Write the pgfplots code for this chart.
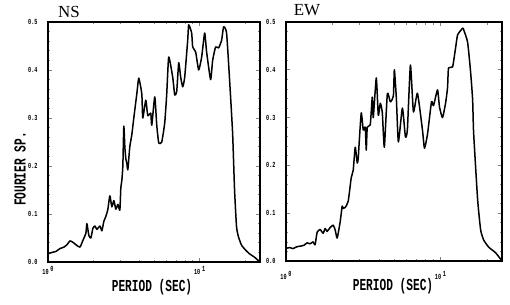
\documentclass[border=0pt]{standalone}
\usepackage{pgfplots}
\pgfplotsset{compat=1.18}
\usepackage{fontspec}
\setmainfont{Liberation Serif}
\setmonofont{Liberation Mono}
\usepackage{graphicx}
\newcommand\tl[1]{\scalebox{1}[1.5]{\ttfamily\bfseries\fontsize{5.2}{5}\selectfont #1}}
\newcommand\xl[1]{\tl{10}\raisebox{2.5bp}{\kern1.8bp\tl{#1}}}
\newcommand\lab[1]{\scalebox{1}[1.5]{\ttfamily\bfseries\fontsize{11.2}{12}\selectfont #1}}
\begin{document}
\begin{tikzpicture}
\useasboundingbox (0,0) rectangle (510bp,305bp);
\begin{axis}[xmode=log, scale only axis,
    xmin=1, xmax=25, ymin=0, ymax=0.5,
    xtick={1,10}, xticklabels={\xl{0},\xl{1}},
    minor xtick={2,3,4,5,6,7,8,9,20},
    ytick={0,0.1,0.2,0.3,0.4,0.5},
    yticklabels={\tl{0.0},\tl{0.1},\tl{0.2},\tl{0.3},\tl{0.4},\tl{0.5}},
    minor y tick num=4,
    axis line style={line width=1.2bp},
    major tick style={line width=0.9bp},
    minor tick style={line width=0.7bp},
    major tick length=4bp, minor tick length=2.5bp,
    yticklabel style={xshift=-7bp},
    at={(48bp,43bp)}, anchor=south west, width=212bp, height=240bp,
  xticklabel style={yshift=-1bp}]
\addplot[black, line width=1.5bp, line join=round, smooth, tension=0.3] coordinates {
(1.000,0.017)(1.0625,0.020)(1.129,0.022)(1.199,0.028)(1.274,0.031)(1.334,0.036)
(1.396,0.044)(1.460,0.041)(1.528,0.036)(1.624,0.031)(1.699,0.045)(1.778,0.060)
(1.805,0.080)(1.861,0.055)(1.918,0.050)(1.977,0.070)(2.038,0.075)(2.101,0.068)
(2.199,0.075)(2.266,0.065)(2.336,0.085)(2.408,0.095)(2.482,0.110)(2.558,0.138)
(2.637,0.115)(2.718,0.128)(2.802,0.110)(2.888,0.120)(2.977,0.108)(3.022,0.155)
(3.069,0.170)(3.115,0.200)(3.162,0.283)(3.211,0.240)(3.260,0.215)(3.309,0.206)
(3.360,0.192)(3.463,0.240)(3.570,0.265)(3.680,0.300)(3.851,0.350)(3.969,0.383)
(4.155,0.350)(4.217,0.300)(4.413,0.337)(4.549,0.305)(4.760,0.310)(4.833,0.285)
(5.058,0.344)(5.213,0.285)(5.374,0.248)(5.623,0.250)(5.884,0.290)(6.066,0.350)
(6.253,0.427)(6.643,0.385)(6.848,0.348)(7.059,0.355)(7.277,0.415)(7.499,0.385)
(7.732,0.365)(7.970,0.385)(8.340,0.462)(8.467,0.494)(8.859,0.477)(8.995,0.448)
(9.412,0.4375)(9.850,0.400)(10.31,0.427)(10.79,0.477)(11.12,0.437)(11.81,0.380)
(12.18,0.420)(12.74,0.448)(13.34,0.446)(13.96,0.462)(14.39,0.490)(15.05,0.477)
(15.75,0.380)(16.49,0.269)(16.99,0.150)(17.51,0.073)(18.05,0.052)(18.89,0.035)
(20.07,0.025)(21.33,0.017)(23.01,0.010)(25.0,0.000)
};
\end{axis}
\begin{axis}[xmode=log, scale only axis,
    xmin=1, xmax=25, ymin=0, ymax=0.5,
    xtick={1,10}, xticklabels={\xl{0},\xl{1}},
    minor xtick={2,3,4,5,6,7,8,9,20},
    ytick={0,0.1,0.2,0.3,0.4,0.5},
    yticklabels={\tl{0.0},\tl{0.1},\tl{0.2},\tl{0.3},\tl{0.4},\tl{0.5}},
    minor y tick num=4,
    axis line style={line width=1.2bp},
    major tick style={line width=0.9bp},
    minor tick style={line width=0.7bp},
    major tick length=4bp, minor tick length=2.5bp,
    yticklabel style={xshift=-7bp},
    at={(286bp,44bp)}, anchor=south west, width=216bp, height=239bp,
  xticklabel style={yshift=-7bp}]
\addplot[black, line width=1.5bp, line join=round, smooth, tension=0.3] coordinates {
(1.000,0.027)(1.015,0.027)(1.062,0.028)(1.110,0.026)(1.179,0.030)(1.233,0.031)
(1.309,0.033)(1.369,0.038)(1.432,0.036)(1.497,0.040)(1.543,0.034)(1.590,0.060)
(1.663,0.066)(1.739,0.058)(1.792,0.068)(1.846,0.062)(1.931,0.070)(2.019,0.075)
(2.081,0.065)(2.144,0.048)(2.242,0.082)(2.310,0.115)(2.345,0.110)(2.416,0.112)
(2.527,0.125)(2.643,0.174)(2.723,0.190)(2.806,0.238)(2.891,0.205)(2.935,0.215)
(2.979,0.250)(3.070,0.310)(3.162,0.274)(3.258,0.280)(3.307,0.232)(3.357,0.280)
(3.511,0.285)(3.617,0.343)(3.672,0.300)(3.841,0.383)(3.957,0.305)(4.077,0.330)
(4.201,0.310)(4.329,0.238)(4.528,0.350)(4.735,0.333)(4.953,0.345)(5.027,0.400)
(5.179,0.340)(5.337,0.249)(5.666,0.320)(5.925,0.260)(6.105,0.275)(6.386,0.410)
(6.679,0.312)(7.092,0.351)(7.642,0.274)(7.874,0.236)(8.236,0.265)(8.741,0.333)
(9.008,0.325)(9.561,0.358)(9.852,0.322)(10.30,0.300)(10.78,0.330)(11.10,0.362)
(11.27,0.404)(11.97,0.406)(12.52,0.446)(12.90,0.473)(13.90,0.487)(14.11,0.484)
(14.97,0.458)(15.66,0.395)(16.14,0.337)(16.38,0.268)(17.39,0.128)(18.19,0.065)
(19.02,0.044)(20.50,0.029)(22.76,0.017)(25.0,0.000)
};
\end{axis}
\node[font=\fontsize{17}{17}\selectfont] at (69bp,293bp) {NS};
\node[font=\fontsize{17}{17}\selectfont] at (307bp,295bp) {EW};
\node at (152bp,18bp) {\lab{PERIOD (SEC)}};
\node at (393bp,19bp) {\lab{PERIOD (SEC)}};
\node[rotate=90] at (20bp,136bp) {\lab{FOURIER SP.}};
\end{tikzpicture}
\end{document}
